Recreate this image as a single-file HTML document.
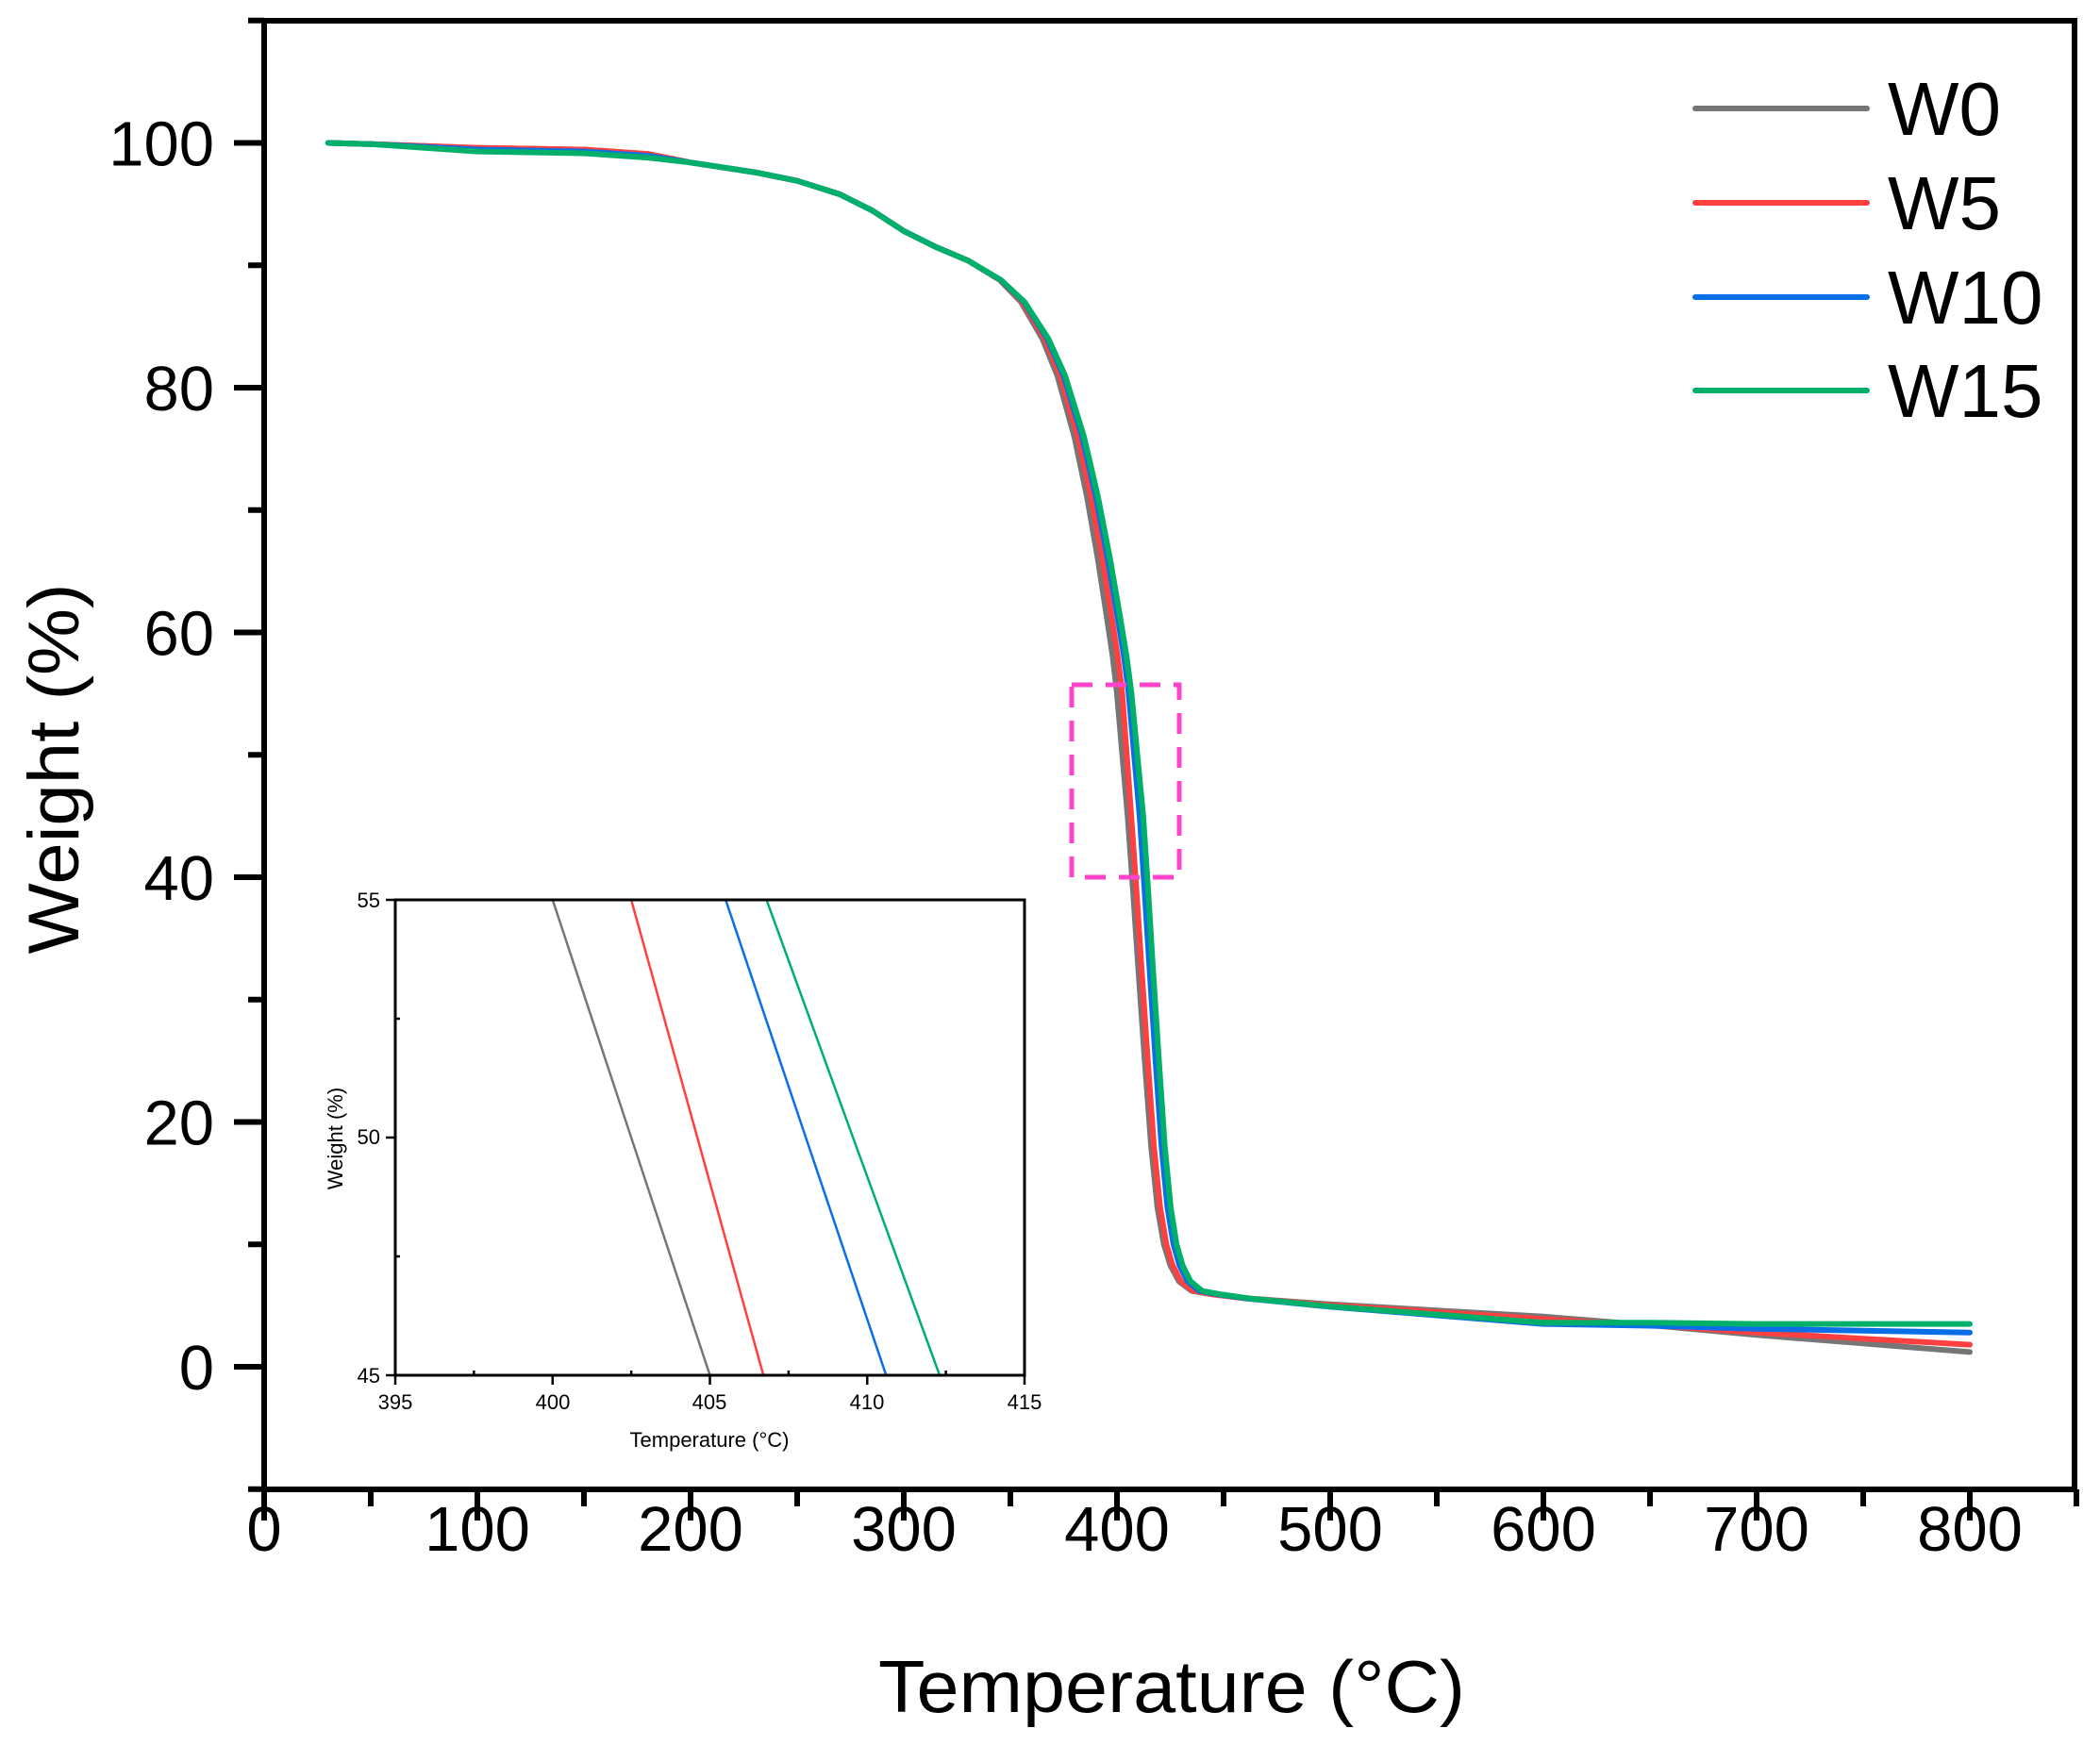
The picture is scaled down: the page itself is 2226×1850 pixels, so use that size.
<!DOCTYPE html>
<html><head><meta charset="utf-8"><style>html,body{margin:0;padding:0;background:#fff;width:2226px;height:1850px;overflow:hidden}svg{display:block}</style></head>
<body>
<svg id="s" width="2226" height="1850" xmlns="http://www.w3.org/2000/svg" font-family="'Liberation Sans', Arial, sans-serif">
<defs>
<clipPath id="main"><rect x="281" y="25" width="1915" height="1551"/></clipPath>
<clipPath id="ins"><rect x="419" y="954" width="667" height="504"/></clipPath>
</defs>
<rect x="0" y="0" width="2226" height="1850" fill="#fff"/>
<g id="curves" clip-path="url(#main)" fill="none" stroke-width="6" stroke-linejoin="round" stroke-linecap="round"></g>
<rect x="1136" y="726" width="114" height="204" fill="none" stroke="#ff44cc" stroke-width="5" stroke-dasharray="22,14"/>
<rect x="419" y="954" width="667" height="504" fill="#fff"/>
<g id="icurves" clip-path="url(#ins)" fill="none" stroke-width="2.5"></g>
<rect x="419" y="954" width="667" height="504" fill="none" stroke="#000" stroke-width="3"/>
<g id="iticks" stroke="#000" stroke-width="2.5"></g>
<g font-size="22" fill="#000">
<text x="419" y="1494" text-anchor="middle">395</text>
<text x="586" y="1494" text-anchor="middle">400</text>
<text x="752" y="1494" text-anchor="middle">405</text>
<text x="919" y="1494" text-anchor="middle">410</text>
<text x="1086" y="1494" text-anchor="middle">415</text>
<text x="403" y="962" text-anchor="end">55</text>
<text x="403" y="1213" text-anchor="end">50</text>
<text x="403" y="1466" text-anchor="end">45</text>
<text x="752" y="1534" text-anchor="middle">Temperature (°C)</text>
<text transform="translate(363,1207) rotate(-90)" text-anchor="middle">Weight  (%)</text>
</g>
<rect x="280" y="22" width="1919" height="1557" fill="none" stroke="#000" stroke-width="6"/>
<g id="ticks" stroke="#000" stroke-width="6"></g>
<g font-size="67" fill="#000" id="labels"></g>
<text x="1242" y="1815" font-size="78" text-anchor="middle" textLength="622" lengthAdjust="spacingAndGlyphs">Temperature (°C)</text>
<text transform="translate(83,815) rotate(-90)" font-size="76" text-anchor="middle" textLength="393" lengthAdjust="spacingAndGlyphs">Weight  (%)</text>
<g stroke-width="6" stroke-linecap="round">
<line x1="1797" y1="115" x2="1979" y2="115" stroke="#767676"/>
<line x1="1797" y1="215" x2="1979" y2="215" stroke="#ff4040"/>
<line x1="1797" y1="315" x2="1979" y2="315" stroke="#0a6fe6"/>
<line x1="1797" y1="414" x2="1979" y2="414" stroke="#00b06a"/>
</g>
<g font-size="80" fill="#000">
<text x="2001" y="143">W0</text>
<text x="2001" y="243">W5</text>
<text x="2001" y="343">W10</text>
<text x="2001" y="442">W15</text>
</g>
</svg>
<script>
var NS="http://www.w3.org/2000/svg";
function el(p,t,a){var e=document.createElementNS(NS,t);for(var k in a)e.setAttribute(k,a[k]);p.appendChild(e);return e;}
var mx=function(T){return 280+2.26*T;}, my=function(W){return 1449-12.975*W;};
var ix=function(T){return 419+(T-395)*33.35;}, iy=function(W){return 1458-(W-45)*50.4;};
var base=[[30,100],[50,99.9],[100,99.6],[150,99.45],[180,99.1],[200,98.4],[230,97.6],[250,96.9],[270,95.8],[285,94.5],[300,92.8],[315,91.5],[330,90.4],[345,88.8],[355,87],[365,84],[372,81],[380,76],[386,71],[391,66],[395,61.5],[398,58],[400,55],[402.5,50],[405,45],[407.5,39],[410,32.5],[413,25],[416,18],[419,13],[422,10],[425,8.3],[429,7],[435,6.2],[445,5.9],[460,5.6],[500,5.1],[550,4.6],[600,4.1],[650,3.4],[700,2.6],[750,1.9],[800,1.2]];
function series(d55,d45,lo,hi,lowFlat,col,early){
  return {col:col,pts:base.map(function(p){var T=p[0],W=p[1];var d=0;
    if(T>=340&&T<=460){var f; if(W>55) f=d55*Math.min(1,(T-340)/60); else if(W>=45) f=d55+(d45-d55)*(55-W)/10; else {var r=Math.max(0,1-(T-405)/55); f=d45*r+(1-r)*lowFlat;} d=f;}
    var Wn=W;
    if(T>=450){ if(T<600) Wn=W-lo*(T-450)/150; else Wn=W-lo+hi*(T-600)/200; }
    if(T>=100&&T<=180&&early) Wn=W-early;
    return [T+d,Wn];})};
}
var S=[
 series(0,0,0,0,0,"#767676",0),
 series(2.5,1.7,0.2,0.8,0,"#ff4040",0),
 series(5.5,5.6,0.6,2.2,2,"#0a6fe6",0.15),
 series(6.8,7.3,0.5,2.8,3,"#00b06a",0.3)
];
var g=document.getElementById("curves"), gi=document.getElementById("icurves");
S.forEach(function(s){
  var d="",di="";
  s.pts.forEach(function(p,i){d+=(i?"L":"M")+mx(p[0]).toFixed(1)+","+my(p[1]).toFixed(1);
    di+=(i?"L":"M")+ix(p[0]).toFixed(1)+","+iy(p[1]).toFixed(1);});
  el(g,"path",{d:d,stroke:s.col});
  el(gi,"path",{d:di,stroke:s.col});
});
var t=document.getElementById("ticks"), L=document.getElementById("labels");
for(var T=0;T<=850;T+=50){var x=mx(T);var maj=T%100==0;
  el(t,"line",{x1:x,y1:1579,x2:x,y2:maj?1612:1597});
  if(maj&&T<=800){var tx=el(L,"text",{x:x,y:1644,"text-anchor":"middle"});tx.textContent=T;}}
for(var W=-10;W<=110;W+=10){var y=my(W);var maj=W%20==0;
  el(t,"line",{x1:280,y1:y,x2:maj?248:263,y2:y});
  if(maj&&W>=0&&W<=100){var ty=el(L,"text",{x:227,y:y+24,"text-anchor":"end"});ty.textContent=W;}}
var it=document.getElementById("iticks");
for(var T=395;T<=415;T+=2.5){var x=ix(T);var maj=(T%5==0);el(it,"line",{x1:x,y1:1458,x2:x,y2:maj?1468:1453});}
for(var W=45;W<=55;W+=2.5){var y=iy(W);var maj=(W%5==0);el(it,"line",{x1:419,y1:y,x2:maj?409:424,y2:y});}
</script>
</body></html>
